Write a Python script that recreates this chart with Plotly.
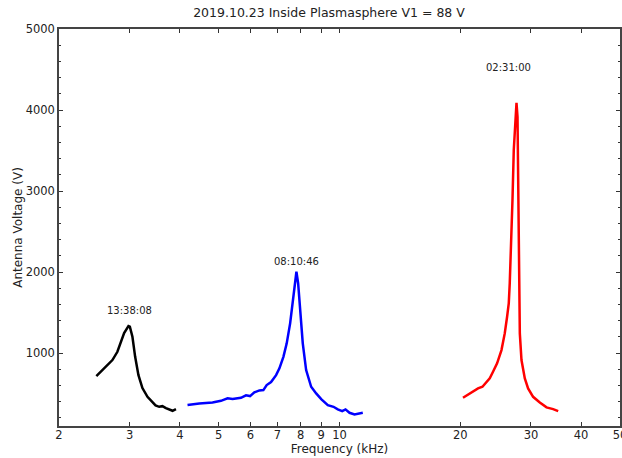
import math
import plotly.graph_objects as go

# ---- data ----
black_f = [2.478, 2.565, 2.640, 2.717, 2.796, 2.851, 2.906, 2.979, 3.003, 3.048, 3.096, 3.155,
           3.228, 3.323, 3.420, 3.480, 3.554, 3.620, 3.694, 3.760, 3.837, 3.913]
black_v = [716, 790, 852, 914, 1016, 1123, 1247, 1333, 1325, 1201, 954, 728,
           568, 460, 399, 355, 337, 345, 321, 305, 288, 309]

blue_f = [4.181, 4.473, 4.826, 5.065, 5.261, 5.415, 5.682, 5.848, 5.985, 6.135, 6.315, 6.461,
          6.585, 6.753, 6.950, 7.084, 7.248, 7.387, 7.533, 7.646, 7.753, 7.810, 7.888, 7.979,
          8.100, 8.258, 8.499, 8.747, 9.003, 9.351, 9.662, 9.902, 10.156, 10.350, 10.591,
          10.900, 11.430]
blue_v = [358, 379, 391, 411, 441, 432, 448, 478, 469, 515, 539, 543,
          605, 642, 728, 811, 954, 1120, 1367, 1614, 1861, 2004, 1861, 1572,
          1120, 790, 584, 502, 432, 358, 337, 305, 284, 305, 263,
          243, 263]

red_f = [20.31, 20.90, 21.51, 22.14, 22.71, 23.24, 23.68, 24.13, 24.70, 25.33, 25.81, 26.16,
         26.41, 26.56, 26.77, 26.98, 27.18, 27.45, 27.61, 27.77, 27.87, 27.98, 28.03, 28.14,
         28.41, 28.96, 29.51, 30.37, 31.56, 32.80, 34.07, 35.07]
red_v = [448, 490, 522, 564, 584, 646, 688, 769, 873, 1037, 1243, 1448,
         1614, 1861, 2272, 2889, 3506, 3917, 4090, 3917, 3300, 2272, 1819, 1243,
         914, 688, 564, 460, 391, 330, 309, 284]

label_text = ["13:38:08", "08:10:46", "02:31:00"]
label_f = [3.0, 7.8, 26.3]
label_v = [1530, 2135, 4530]

x_tick_vals = [2, 3, 4, 5, 6, 7, 8, 9, 10, 20, 30, 40, 50]
x_tick_text = ["2", "3", "4", "5", "6", "7", "8", "9", "10", "20", "30", "40", "50"]
y_tick_vals = [1000, 2000, 3000, 4000, 5000]

title_text = "2019.10.23 Inside Plasmasphere V1 = 88 V"

# ---- figure ----
fig = go.Figure()
for f, v, c in [(black_f, black_v, "black"), (blue_f, blue_v, "#0000ff"), (red_f, red_v, "#ff0000")]:
    fig.add_trace(go.Scatter(x=f, y=v, mode="lines", line=dict(color=c, width=2.5),
                             showlegend=False, hoverinfo="skip"))

for t, xf, yv in zip(label_text, label_f, label_v):
    fig.add_annotation(x=math.log10(xf), y=yv, xref="x", yref="y", text=t, showarrow=False,
                       font=dict(size=10, color="#222222", family="DejaVu Sans"))

axis_common = dict(showline=True, linecolor="#444444", linewidth=1.5, mirror="ticks",
                   ticks="inside", tickcolor="#333333", ticklen=4, tickwidth=1.2,
                   showgrid=False, zeroline=False, automargin=False,
                   ticklabeloverflow="allow",
                   tickfont=dict(size=11.5, color="#222222", family="DejaVu Sans"))

fig.update_layout(
    width=622, height=458,
    margin=dict(l=59, r=2, t=29, b=32),
    paper_bgcolor="white", plot_bgcolor="white",
    title=dict(text=title_text, x=329 / 622, xanchor="center", y=1 - 13 / 458, yanchor="middle",
               font=dict(size=12.5, color="#222222", family="DejaVu Sans"),
               automargin=False),
    xaxis=dict(type="log", range=[0.30103, 1.69897], tickmode="array",
               tickvals=x_tick_vals, ticktext=x_tick_text, ticklabelstandoff=-3,
               title=dict(text="Frequency (kHz)", standoff=1,
                          font=dict(size=12, color="#222222", family="DejaVu Sans")),
               **axis_common),
    yaxis=dict(range=[100, 5000], tickmode="array", tickvals=y_tick_vals,
               minor=dict(dtick=200, tick0=0, ticks="inside", ticklen=2.5, tickcolor="#333333", tickwidth=1.2),
               title=dict(text="Antenna Voltage (V)", standoff=0,
                          font=dict(size=12, color="#222222", family="DejaVu Sans")),
               **axis_common),
)

fig.write_html("out.html", config={"displayModeBar": False},
               post_script="document.body.style.margin='0';document.body.style.overflow='hidden';")
